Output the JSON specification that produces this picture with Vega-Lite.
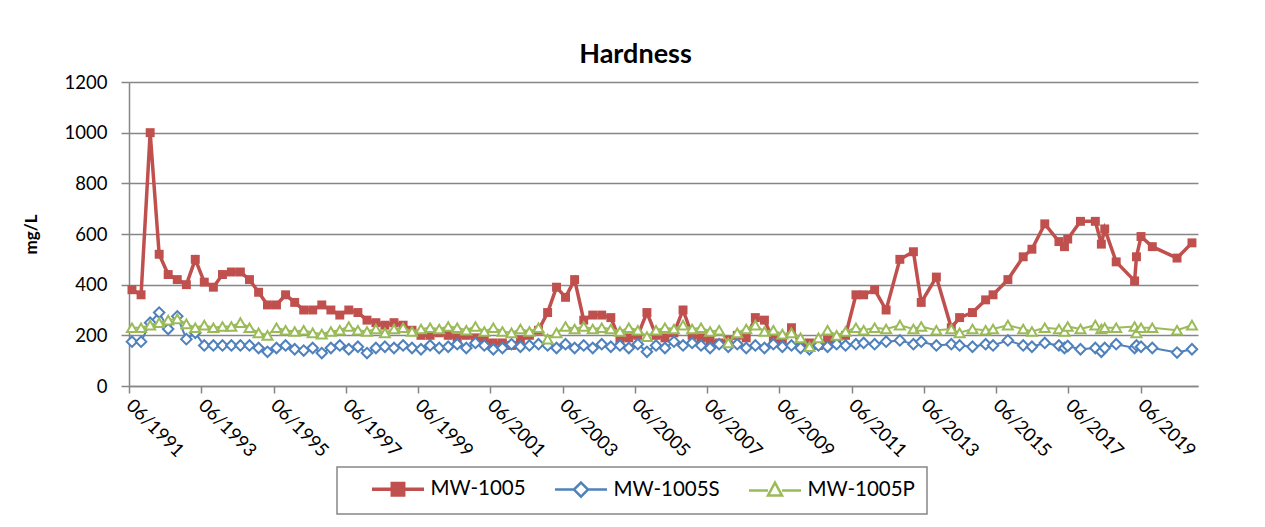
{
"$schema": "https://vega.github.io/schema/vega-lite/v6.json",
"autosize": {"type": "none"},
"width": 1069,
"height": 304,
"padding": {"left": 129, "top": 82, "right": 67, "bottom": 141},
"background": "white",
"config": {"font": "Lato", "view": {"stroke": null}},
"title": {"text": "Hardness", "font": "Lato", "fontSize": 27, "fontWeight": "bold", "color": "black", "anchor": "middle", "dx": -28, "offset": 4},
"data": {"values": [
{"date":"1991-07-01","MW-1005":380,"MW-1005S":175,"MW-1005P":230},
{"date":"1991-10-01","MW-1005":360,"MW-1005S":175,"MW-1005P":230},
{"date":"1992-01-01","MW-1005":1000,"MW-1005S":250,"MW-1005P":240},
{"date":"1992-04-01","MW-1005":520,"MW-1005S":290,"MW-1005P":250},
{"date":"1992-07-01","MW-1005":440,"MW-1005S":225,"MW-1005P":260},
{"date":"1992-10-01","MW-1005":420,"MW-1005S":275,"MW-1005P":265},
{"date":"1993-01-01","MW-1005":400,"MW-1005S":185,"MW-1005P":245},
{"date":"1993-04-01","MW-1005":500,"MW-1005S":210,"MW-1005P":230},
{"date":"1993-07-01","MW-1005":410,"MW-1005S":160,"MW-1005P":240},
{"date":"1993-10-01","MW-1005":390,"MW-1005S":160,"MW-1005P":230},
{"date":"1994-01-01","MW-1005":440,"MW-1005S":160,"MW-1005P":235},
{"date":"1994-04-01","MW-1005":450,"MW-1005S":160,"MW-1005P":235},
{"date":"1994-07-01","MW-1005":450,"MW-1005S":160,"MW-1005P":250},
{"date":"1994-10-01","MW-1005":420,"MW-1005S":160,"MW-1005P":230},
{"date":"1995-01-01","MW-1005":370,"MW-1005S":150,"MW-1005P":210},
{"date":"1995-04-01","MW-1005":320,"MW-1005S":135,"MW-1005P":200},
{"date":"1995-07-01","MW-1005":320,"MW-1005S":150,"MW-1005P":230},
{"date":"1995-10-01","MW-1005":360,"MW-1005S":160,"MW-1005P":220},
{"date":"1996-01-01","MW-1005":330,"MW-1005S":145,"MW-1005P":215},
{"date":"1996-04-01","MW-1005":300,"MW-1005S":140,"MW-1005P":220},
{"date":"1996-07-01","MW-1005":300,"MW-1005S":150,"MW-1005P":210},
{"date":"1996-10-01","MW-1005":320,"MW-1005S":130,"MW-1005P":205},
{"date":"1997-01-01","MW-1005":300,"MW-1005S":150,"MW-1005P":215},
{"date":"1997-04-01","MW-1005":280,"MW-1005S":160,"MW-1005P":220},
{"date":"1997-07-01","MW-1005":300,"MW-1005S":145,"MW-1005P":235},
{"date":"1997-10-01","MW-1005":290,"MW-1005S":155,"MW-1005P":220},
{"date":"1998-01-01","MW-1005":260,"MW-1005S":130,"MW-1005P":215},
{"date":"1998-04-01","MW-1005":250,"MW-1005S":150,"MW-1005P":225},
{"date":"1998-07-01","MW-1005":240,"MW-1005S":155,"MW-1005P":210},
{"date":"1998-10-01","MW-1005":250,"MW-1005S":150,"MW-1005P":225},
{"date":"1999-01-01","MW-1005":240,"MW-1005S":160,"MW-1005P":230},
{"date":"1999-04-01","MW-1005":220,"MW-1005S":150,"MW-1005P":215},
{"date":"1999-07-01","MW-1005":200,"MW-1005S":145,"MW-1005P":225},
{"date":"1999-10-01","MW-1005":200,"MW-1005S":160,"MW-1005P":230},
{"date":"2000-01-01","MW-1005":210,"MW-1005S":150,"MW-1005P":225},
{"date":"2000-04-01","MW-1005":200,"MW-1005S":155,"MW-1005P":235},
{"date":"2000-07-01","MW-1005":190,"MW-1005S":165,"MW-1005P":230},
{"date":"2000-10-01","MW-1005":200,"MW-1005S":150,"MW-1005P":220},
{"date":"2001-01-01","MW-1005":190,"MW-1005S":170,"MW-1005P":235},
{"date":"2001-04-01","MW-1005":180,"MW-1005S":160,"MW-1005P":215},
{"date":"2001-07-01","MW-1005":170,"MW-1005S":145,"MW-1005P":230},
{"date":"2001-10-01","MW-1005":170,"MW-1005S":150,"MW-1005P":215},
{"date":"2002-01-01","MW-1005":160,"MW-1005S":165,"MW-1005P":210},
{"date":"2002-04-01","MW-1005":180,"MW-1005S":155,"MW-1005P":225},
{"date":"2002-07-01","MW-1005":200,"MW-1005S":160,"MW-1005P":215},
{"date":"2002-10-01","MW-1005":220,"MW-1005S":165,"MW-1005P":230},
{"date":"2003-01-01","MW-1005":290,"MW-1005S":160,"MW-1005P":185},
{"date":"2003-04-01","MW-1005":390,"MW-1005S":150,"MW-1005P":210},
{"date":"2003-07-01","MW-1005":350,"MW-1005S":165,"MW-1005P":235},
{"date":"2003-10-01","MW-1005":420,"MW-1005S":150,"MW-1005P":225},
{"date":"2004-01-01","MW-1005":260,"MW-1005S":160,"MW-1005P":235},
{"date":"2004-04-01","MW-1005":280,"MW-1005S":150,"MW-1005P":225},
{"date":"2004-07-01","MW-1005":280,"MW-1005S":165,"MW-1005P":230},
{"date":"2004-10-01","MW-1005":270,"MW-1005S":155,"MW-1005P":225},
{"date":"2005-01-01","MW-1005":180,"MW-1005S":160,"MW-1005P":215},
{"date":"2005-04-01","MW-1005":190,"MW-1005S":150,"MW-1005P":230},
{"date":"2005-07-01","MW-1005":200,"MW-1005S":165,"MW-1005P":220},
{"date":"2005-10-01","MW-1005":290,"MW-1005S":135,"MW-1005P":195},
{"date":"2006-01-01","MW-1005":200,"MW-1005S":160,"MW-1005P":220},
{"date":"2006-04-01","MW-1005":190,"MW-1005S":150,"MW-1005P":230},
{"date":"2006-07-01","MW-1005":210,"MW-1005S":175,"MW-1005P":225},
{"date":"2006-10-01","MW-1005":300,"MW-1005S":160,"MW-1005P":240},
{"date":"2007-01-01","MW-1005":200,"MW-1005S":170,"MW-1005P":225},
{"date":"2007-04-01","MW-1005":190,"MW-1005S":160,"MW-1005P":230},
{"date":"2007-07-01","MW-1005":180,"MW-1005S":150,"MW-1005P":215},
{"date":"2007-10-01","MW-1005":170,"MW-1005S":165,"MW-1005P":220},
{"date":"2008-01-01","MW-1005":180,"MW-1005S":155,"MW-1005P":170},
{"date":"2008-04-01","MW-1005":200,"MW-1005S":165,"MW-1005P":210},
{"date":"2008-07-01","MW-1005":190,"MW-1005S":150,"MW-1005P":225},
{"date":"2008-10-01","MW-1005":270,"MW-1005S":160,"MW-1005P":240},
{"date":"2009-01-01","MW-1005":260,"MW-1005S":150,"MW-1005P":215},
{"date":"2009-04-01","MW-1005":180,"MW-1005S":165,"MW-1005P":220},
{"date":"2009-07-01","MW-1005":170,"MW-1005S":155,"MW-1005P":205},
{"date":"2009-10-01","MW-1005":230,"MW-1005S":160,"MW-1005P":210},
{"date":"2010-01-01","MW-1005":160,"MW-1005S":150,"MW-1005P":190},
{"date":"2010-04-01","MW-1005":170,"MW-1005S":145,"MW-1005P":155},
{"date":"2010-07-01","MW-1005":160,"MW-1005S":160,"MW-1005P":190},
{"date":"2010-10-01","MW-1005":180,"MW-1005S":155,"MW-1005P":220},
{"date":"2011-01-01","MW-1005":180,"MW-1005S":165,"MW-1005P":200},
{"date":"2011-04-01","MW-1005":200,"MW-1005S":160,"MW-1005P":215},
{"date":"2011-07-15","MW-1005":360,"MW-1005S":165,"MW-1005P":230},
{"date":"2011-10-01","MW-1005":360,"MW-1005S":170,"MW-1005P":220},
{"date":"2012-01-20","MW-1005":380,"MW-1005S":165,"MW-1005P":230},
{"date":"2012-05-15","MW-1005":300,"MW-1005S":175,"MW-1005P":225},
{"date":"2012-10-01","MW-1005":500,"MW-1005S":180,"MW-1005P":240},
{"date":"2013-02-15","MW-1005":530,"MW-1005S":165,"MW-1005P":225},
{"date":"2013-05-05","MW-1005":330,"MW-1005S":175,"MW-1005P":235},
{"date":"2013-10-05","MW-1005":430,"MW-1005S":160,"MW-1005P":220},
{"date":"2014-03-05","MW-1005":230,"MW-1005S":165,"MW-1005P":225},
{"date":"2014-05-28","MW-1005":270,"MW-1005S":160,"MW-1005P":210},
{"date":"2014-10-05","MW-1005":290,"MW-1005S":155,"MW-1005P":225},
{"date":"2015-02-15","MW-1005":340,"MW-1005S":165,"MW-1005P":220},
{"date":"2015-05-01","MW-1005":360,"MW-1005S":160,"MW-1005P":225},
{"date":"2015-09-28","MW-1005":420,"MW-1005S":180,"MW-1005P":240},
{"date":"2016-03-01","MW-1005":510,"MW-1005S":160,"MW-1005P":225},
{"date":"2016-05-28","MW-1005":540,"MW-1005S":155,"MW-1005P":215},
{"date":"2016-10-05","MW-1005":640,"MW-1005S":170,"MW-1005P":230},
{"date":"2017-02-25","MW-1005":570,"MW-1005S":160,"MW-1005P":225},
{"date":"2017-04-22","MW-1005":550,"MW-1005S":150,"MW-1005P":215},
{"date":"2017-05-25","MW-1005":580,"MW-1005S":158,"MW-1005P":235},
{"date":"2017-10-01","MW-1005":650,"MW-1005S":145,"MW-1005P":225},
{"date":"2018-02-28","MW-1005":650,"MW-1005S":150,"MW-1005P":240},
{"date":"2018-04-30","MW-1005":560,"MW-1005S":135,"MW-1005P":225},
{"date":"2018-06-03","MW-1005":620,"MW-1005S":150,"MW-1005P":230},
{"date":"2018-09-27","MW-1005":490,"MW-1005S":165,"MW-1005P":230},
{"date":"2019-04-01","MW-1005":415,"MW-1005S":150,"MW-1005P":235},
{"date":"2019-04-20","MW-1005":510,"MW-1005S":160,"MW-1005P":210},
{"date":"2019-06-05","MW-1005":590,"MW-1005S":155,"MW-1005P":230},
{"date":"2019-09-27","MW-1005":550,"MW-1005S":150,"MW-1005P":230},
{"date":"2020-06-03","MW-1005":505,"MW-1005S":132,"MW-1005P":220},
{"date":"2020-11-01","MW-1005":565,"MW-1005S":145,"MW-1005P":240}
]},
"transform": [{"fold": ["MW-1005", "MW-1005S", "MW-1005P"], "as": ["series", "value"]}],
"encoding": {
  "x": {"field": "date", "type": "temporal",
    "scale": {"type": "utc", "domain": [{"year": 1991, "month": 6, "date": 1, "utc": true}, {"year": 2021, "month": 1, "date": 1, "utc": true}]},
    "axis": {"title": null, "format": "%m/%Y", "grid": false,
      "values": [{"year":1991,"month":6,"date":1,"utc":true},{"year":1993,"month":6,"date":1,"utc":true},{"year":1995,"month":6,"date":1,"utc":true},{"year":1997,"month":6,"date":1,"utc":true},{"year":1999,"month":6,"date":1,"utc":true},{"year":2001,"month":6,"date":1,"utc":true},{"year":2003,"month":6,"date":1,"utc":true},{"year":2005,"month":6,"date":1,"utc":true},{"year":2007,"month":6,"date":1,"utc":true},{"year":2009,"month":6,"date":1,"utc":true},{"year":2011,"month":6,"date":1,"utc":true},{"year":2013,"month":6,"date":1,"utc":true},{"year":2015,"month":6,"date":1,"utc":true},{"year":2017,"month":6,"date":1,"utc":true},{"year":2019,"month":6,"date":1,"utc":true}],
      "labelAngle": 45, "labelAlign": "left", "labelBaseline": "middle", "labelFontSize": 18.5, "labelColor": "black", "labelFont": "Lato",
      "labelPadding": 9, "tickSize": 7, "tickColor": "#868686", "tickWidth": 1.5, "domainColor": "#868686", "domainWidth": 1.5, "labelOverlap": false, "labelFlush": false, "zindex": 0}},
  "y": {"field": "value", "type": "quantitative",
    "scale": {"domain": [0, 1200], "nice": false},
    "axis": {"title": "mg/L", "titleFont": "Lato", "titleFontSize": 17, "titleFontWeight": "bold", "titleColor": "black", "titlePadding": 24,
      "values": [0, 200, 400, 600, 800, 1000, 1200], "format": "d", "labelFontSize": 18.5, "labelColor": "black", "labelFont": "Lato", "labelPadding": 14,
      "tickSize": 8, "tickColor": "#868686", "tickWidth": 1.5, "domainColor": "#868686", "domainWidth": 1.5,
      "grid": true, "gridColor": "#868686", "gridWidth": 1.5, "zindex": 0}}
},
"layer": [
  {"transform": [{"filter": "datum.series === 'MW-1005'"}],
   "mark": {"type": "line", "strokeWidth": 3.5},
   "encoding": {"color": {"field": "series", "type": "nominal",
     "scale": {"domain": ["MW-1005", "MW-1005S", "MW-1005P"], "range": ["#C0504D", "#4F81BD", "#9BBB59"]},
     "legend": {"title": null, "orient": "none", "legendX": 208, "legendY": 385, "direction": "horizontal",
       "strokeColor": "#868686", "padding": 12, "columnPadding": 6,
       "labelFontSize": 20.5, "labelFont": "Lato", "labelColor": "black", "labelOffset": 61, "symbolSize": 2704, "symbolStrokeWidth": 2.5,
       "encode": {
         "legend": {"update": {"strokeWidth": {"value": 1.5}}},
         "symbols": {"update": {
         "shape": {"signal": "datum.value === 'MW-1005' ? 'M0.49,0H2.49M1.27,-0.22H1.71V0.22H1.27Z' : datum.value === 'MW-1005S' ? 'M0.49,0H1.22M1.76,0H2.49M1.49,-0.27L1.76,0L1.49,0.27L1.22,0Z' : 'M0.49,0H1.22M1.76,0H2.49M1.49,-0.3L1.76,0.2L1.22,0.2Z'"},
         "fill": {"signal": "datum.value === 'MW-1005' ? '#C0504D' : 'white'"},
         "strokeWidth": {"signal": "datum.value === 'MW-1005' ? 3.5 : 2.5"},
         "opacity": {"value": 1}}}}}}}},
  {"transform": [{"filter": "datum.series === 'MW-1005'"}],
   "mark": {"type": "point", "shape": "square", "filled": true, "color": "#C0504D", "size": 80, "opacity": 1}},
  {"transform": [{"filter": "datum.series === 'MW-1005S'"}],
   "mark": {"type": "line", "strokeWidth": 2},
   "encoding": {"color": {"field": "series", "type": "nominal"}}},
  {"transform": [{"filter": "datum.series === 'MW-1005S'"}],
   "mark": {"type": "point", "shape": "diamond", "filled": true, "fill": "white", "stroke": "#4F81BD", "strokeWidth": 2, "size": 110, "opacity": 1}},
  {"transform": [{"filter": "datum.series === 'MW-1005P'"}],
   "mark": {"type": "line", "strokeWidth": 2},
   "encoding": {"color": {"field": "series", "type": "nominal"}}},
  {"transform": [{"filter": "datum.series === 'MW-1005P'"}],
   "mark": {"type": "point", "shape": "triangle-up", "filled": true, "fill": "white", "stroke": "#9BBB59", "strokeWidth": 2, "size": 100, "opacity": 1}}
]
}
